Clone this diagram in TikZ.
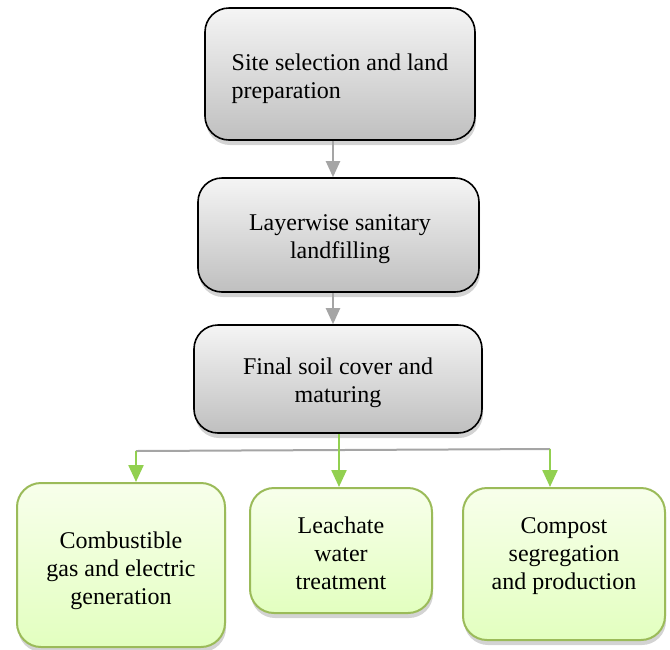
\documentclass[tikz,border=0pt]{standalone}
\usepackage{fontspec}
\setmainfont{Liberation Serif}
\usetikzlibrary{arrows.meta,shadows}
\definecolor{boxgreen}{HTML}{9BBB59}
\definecolor{arrowgreen}{HTML}{92D050}
\definecolor{arrowgray}{HTML}{A5A5A5}
\tikzset{
  graybox/.style={rectangle, rounded corners=24pt, draw=black, line width=1.6pt,
    top color=white!96!black, bottom color=black!25,
    drop shadow={opacity=0.35, shadow xshift=1pt, shadow yshift=-5pt}, inner sep=0pt},
  greenbox/.style={rectangle, rounded corners=24pt, draw=boxgreen, line width=2pt,
    top color=green!3!white!95!yellow, bottom color=green!45!yellow!25!white,
    drop shadow={opacity=0.35, shadow xshift=1pt, shadow yshift=-5pt}, inner sep=0pt},
  boxtext/.style={font=\fontsize{24}{28}\selectfont, inner sep=0pt, align=center},
  grayarrow/.style={draw=arrowgray, line width=2pt, -{Triangle[width=14pt,length=16pt]}, arrowgray},
  greenarrow/.style={draw=arrowgreen, line width=2.4pt, -{Triangle[width=15pt,length=17pt]}, arrowgreen},
}
\begin{document}
\begin{tikzpicture}[x=1pt,y=-1pt]
\useasboundingbox (0,0) rectangle (670,649);
\node[graybox, minimum width=270pt, minimum height=132pt] (b1) at (340,74) {};
\node[graybox, minimum width=281pt, minimum height=114pt] (b2) at (338.5,235) {};
\node[graybox, minimum width=288pt, minimum height=108pt] (b3) at (338,379) {};
\node[greenbox, minimum width=208pt, minimum height=164pt] (l) at (121,565) {};
\node[greenbox, minimum width=182pt, minimum height=125pt] (m) at (341,550.5) {};
\node[greenbox, minimum width=202pt, minimum height=152pt] (r) at (564,564) {};
\node[boxtext, align=left] (b1t) at (340,79) {Site selection and land\\preparation};
\node[boxtext] (b2t) at (340,239) {Layerwise sanitary\\landfilling};
\node[boxtext] (b3t) at (338,383) {Final soil cover and\\maturing};
\node[boxtext] (lt) at (121,571) {Combustible\\gas and electric\\generation};
\node[boxtext] (mt) at (341,553) {Leachate\\water\\treatment};
\node[boxtext] (rt) at (564,556) {Compost\\segregation\\and production};
\coordinate (lj) at (136,451);
\coordinate (mj) at (339,450);
\coordinate (rj) at (550,449);
\draw[grayarrow] (b1.south -| 333,0) -- (333,0 |- b2.north);
\draw[grayarrow] (b2.south -| 333,0) -- (333,0 |- b3.north);
\draw[draw=arrowgray, line width=2pt] (lj) -- (rj);
\draw[greenarrow] (lj) -- (lj |- l.north);
\draw[greenarrow] (rj) -- (rj |- r.north);
\draw[greenarrow] (b3.south -| mj) -- (mj |- m.north);
\end{tikzpicture}
\end{document}
